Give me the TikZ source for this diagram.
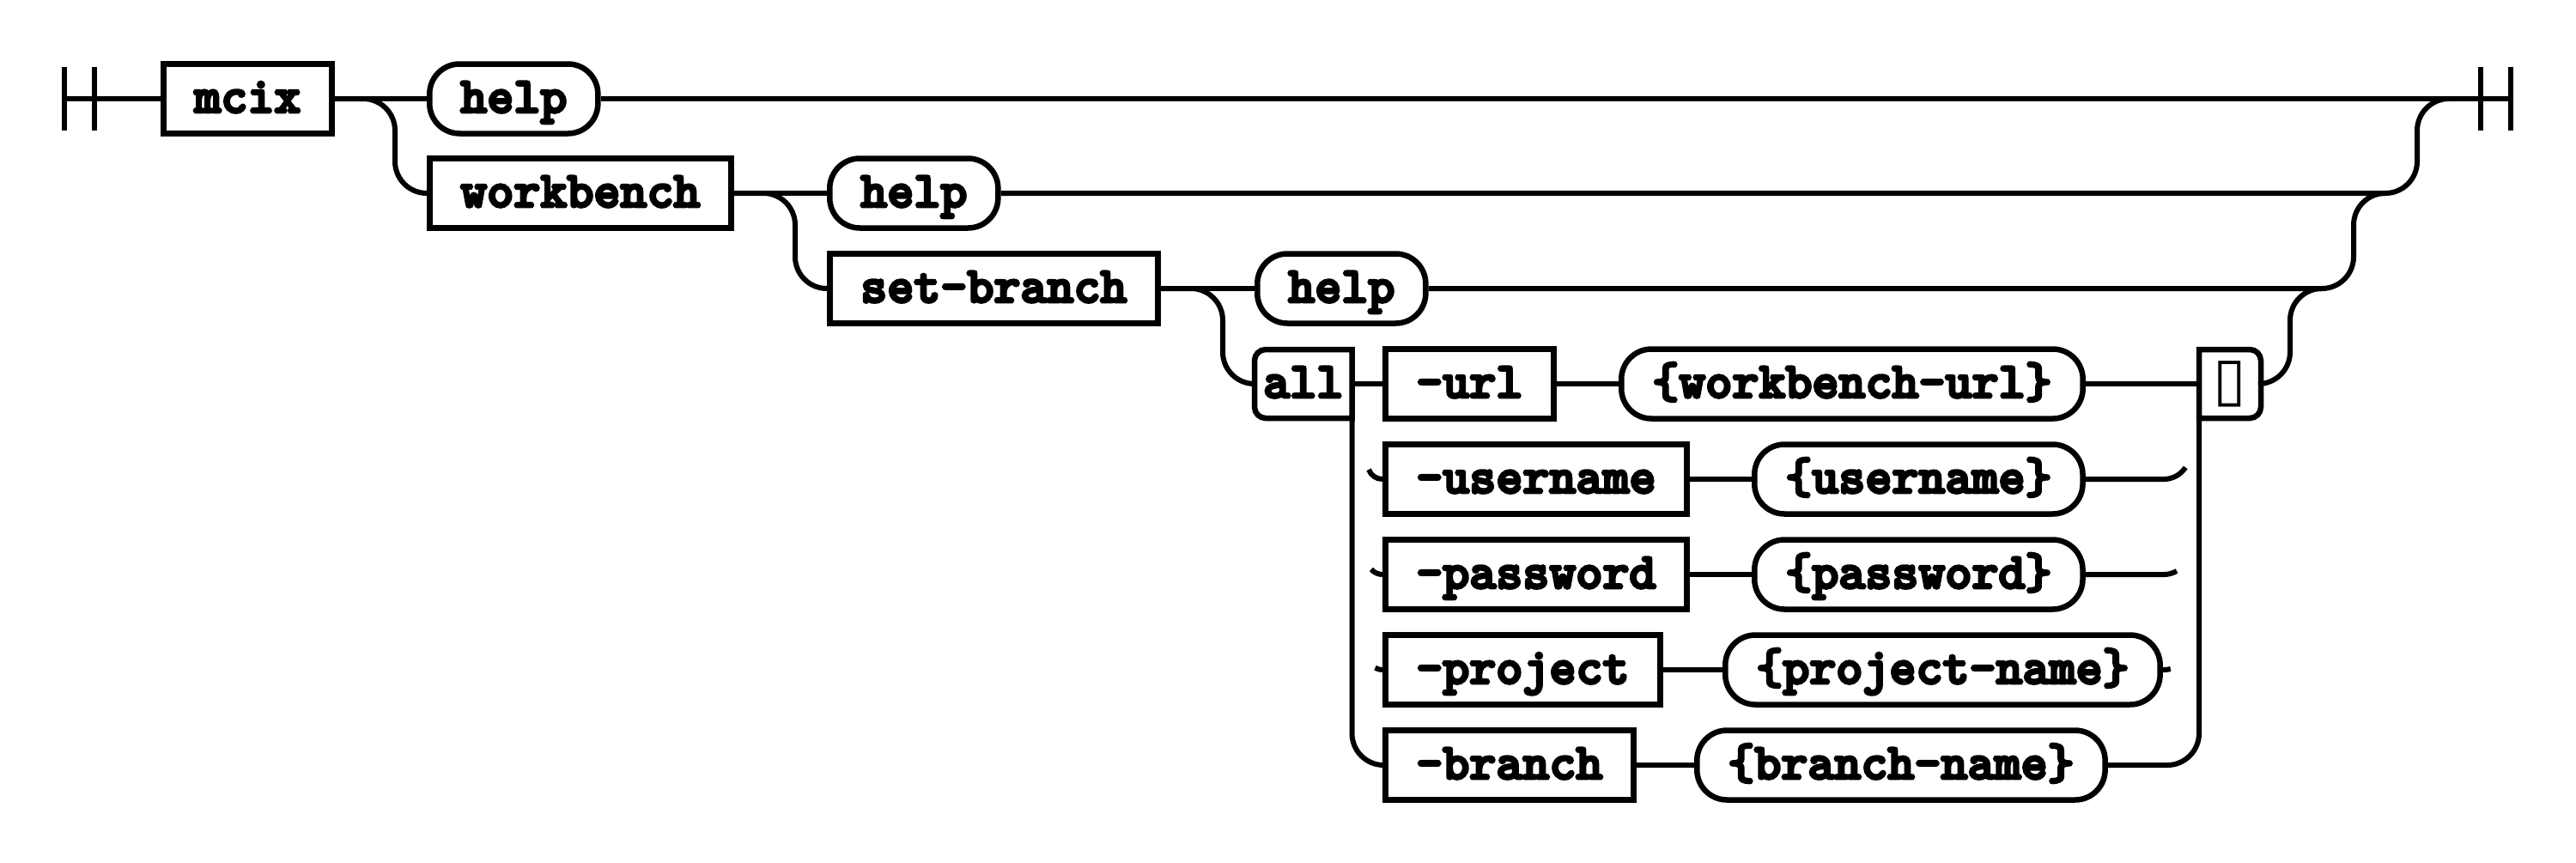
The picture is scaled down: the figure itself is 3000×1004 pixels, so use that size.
\documentclass[tikz,border=0pt]{standalone}
\usepackage{fontspec}
\newfontfamily\railFont{lmmonolt10-bold.otf}[FakeBold=5]
\newfontfamily\glyphFont{DejaVu Sans}
\newcommand{\linkNodes}[2]{%%
  \draw[lineStyle] (#1.east) -- (#2.west);
}
\newcommand{\branchDown}[2]{%%
  \draw[lineStyle,rounded corners=37pt] (#1.east) -| ([xshift=-37pt]#2.west) -- (#2.west);
}
\newcommand{\mergeUp}[2]{%%
  \draw[lineStyle,rounded corners=37pt] (#1.east) -| ([xshift=-37pt]#2) -- (#2);
}
\newcommand{\railBars}[1]{%%
  \draw[lineStyle] ([yshift=37pt]#1) -- ([yshift=-37pt]#1);
  \draw[lineStyle] ([xshift=35pt,yshift=37pt]#1) -- ([xshift=35pt,yshift=-37pt]#1);
}
\newcommand{\hookRight}[2]{%%
  \draw[lineStyle] (#1.east) -- (hookR |- #1.east) arc[start angle=270,end angle=#2,radius=30pt];
}
\newcommand{\hookLeft}[2]{%%
  \draw[lineStyle] (#1.west) arc[start angle=270,end angle=#2,radius=17pt];
}

\begin{document}
\begin{tikzpicture}[%%
  x=1pt,y=-1pt,%%
  lineStyle/.style={-,line width=6pt},%%
  edgeStyle/.style={line width=6.5pt},%%
  termStyle/.style={draw,line width=6.5pt,rectangle,anchor=west,minimum height=81pt,%%
    inner xsep=36pt,inner ysep=0pt,text height=40pt,text depth=8pt,%%
    font=\railFont\fontsize{59.1}{68}\selectfont},%%
  litStyle/.style={termStyle,rounded corners=35pt},%%
  halfStyle/.style={termStyle,draw=none,minimum height=73.5pt,inner xsep=0pt}%%
]
%%
\useasboundingbox (0,0) rectangle (3000,1004);
%%
\pgfmathsetmacro{\rowA}{115}
\pgfmathsetmacro{\rowB}{225}
\pgfmathsetmacro{\rowC}{336}
\pgfmathsetmacro{\rowD}{447}
\pgfmathsetmacro{\rowE}{558}
\pgfmathsetmacro{\rowF}{669}
\pgfmathsetmacro{\rowG}{780}
\pgfmathsetmacro{\rowH}{891}
\pgfmathsetmacro{\optX}{1610}
%%
\coordinate (startBar) at (75,\rowA);
\coordinate (endBar) at (2889,\rowA);
\coordinate (joinA) at (2852,\rowA);
\coordinate (joinB) at (2778,\rowB);
\coordinate (joinC) at (2704,\rowC);
\coordinate (hookR) at (2520,0);
%%
%% The command chain.
\node[termStyle] (mcix) at (187,\rowA) {mcix};
\node[litStyle] (helpA) at (497,\rowA) {help};
\node[termStyle] (workbench) at (497,\rowB) {workbench};
\node[litStyle] (helpB) at (963,\rowB) {help};
\node[termStyle] (setBranch) at (963,\rowC) {set-branch};
\node[litStyle] (helpC) at (1461,\rowC) {help};
\node[halfStyle,minimum width=107pt] (all) at (1461,\rowD) {all};
\node[halfStyle,minimum width=65.5pt] (tofu) at (2561,\rowD)
  {\glyphFont\fontsize{70}{80}\selectfont\raisebox{-2pt}{▯}};
%%
%% The options and their values.
\node[termStyle] (url) at (\optX,\rowD) {-url};
\node[litStyle] (urlVal) at (1885,\rowD) {\{workbench-url\}};
\node[termStyle] (username) at (\optX,\rowE) {-username};
\node[litStyle] (userVal) at (2040,\rowE) {\{username\}};
\node[termStyle] (password) at (\optX,\rowF) {-password};
\node[litStyle] (passVal) at (2040,\rowF) {\{password\}};
\node[termStyle] (project) at (\optX,\rowG) {-project};
\node[litStyle] (projVal) at (2006,\rowG) {\{project-name\}};
\node[termStyle] (branch) at (\optX,\rowH) {-branch};
\node[litStyle] (branchVal) at (1973,\rowH) {\{branch-name\}};
%%
%% Half rounded boxes.
\draw[edgeStyle,rounded corners=13pt] (all.south) -- (all.south west) -- (all.north west) -- (all.north)
  [sharp corners] -- (all.north east) -- (all.south east) -- cycle;
\draw[edgeStyle,rounded corners=13pt] (tofu.north) -- (tofu.north east) -- (tofu.south east) -- (tofu.south)
  [sharp corners] -- (tofu.south west) -- (tofu.north west) -- cycle;
%%
%% Start and end.
\railBars{startBar}
\railBars{endBar}
\draw[lineStyle] (startBar) -- (mcix.west);
\draw[lineStyle] (helpA.east) -- ([xshift=35pt]endBar);
%%
%% Branches to the right.
\linkNodes{mcix}{helpA}
\branchDown{mcix}{workbench}
\linkNodes{workbench}{helpB}
\branchDown{workbench}{setBranch}
\linkNodes{setBranch}{helpC}
\branchDown{setBranch}{all}
%%
%% Merges back to the main line.
\mergeUp{helpB}{joinA}
\mergeUp{helpC}{joinB}
\mergeUp{tofu}{joinC}
%%
%% The option rows.
\linkNodes{all}{url}
\linkNodes{url}{urlVal}
\linkNodes{urlVal}{tofu}
\linkNodes{username}{userVal}
\linkNodes{password}{passVal}
\linkNodes{project}{projVal}
\linkNodes{branch}{branchVal}
\draw[lineStyle,rounded corners=37pt] (all.south east) |- (branch.west);
\draw[lineStyle,rounded corners=37pt] (tofu.south west) |- (branchVal.east);
\hookRight{userVal}{327}
\hookRight{passVal}{300}
\hookRight{projVal}{285}
\hookLeft{username}{200}
\hookLeft{password}{220}
\hookLeft{project}{240}
\end{tikzpicture}
\end{document}
